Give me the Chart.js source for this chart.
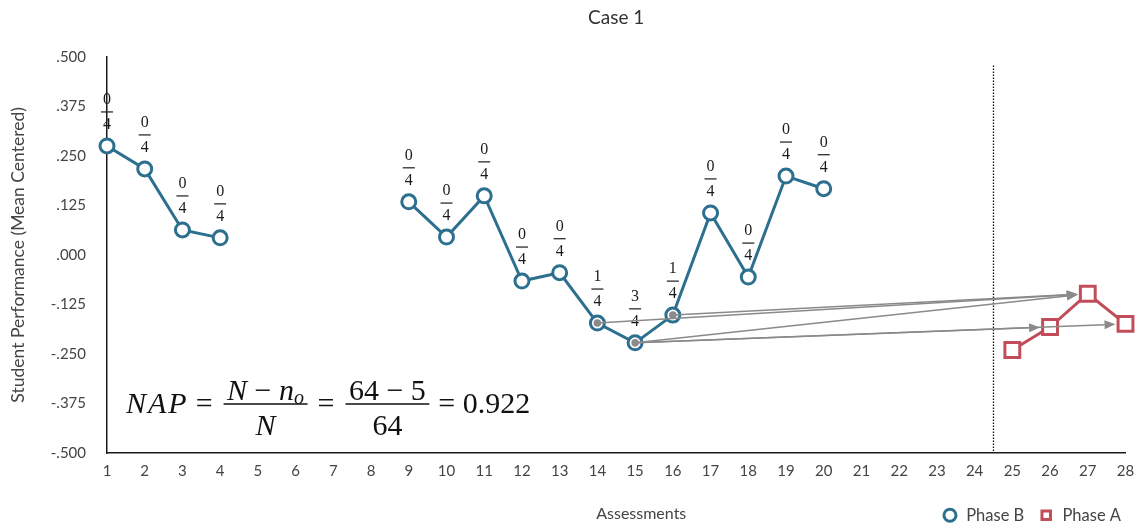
<!DOCTYPE html>
<html>
<head>
<meta charset="utf-8">
<title>Case 1</title>
<script src="https://cdn.jsdelivr.net/npm/chart.js@4.4.1/dist/chart.umd.min.js"></script>
<style>
  html, body { margin: 0; padding: 0; background: #ffffff; }
  #wrap { width: 1139px; height: 523px; position: relative; }
</style>
</head>
<body>
<div id="wrap"><canvas id="chart"></canvas></div>
<script>
// Assessment sessions and mean-centered performance
const sessionsB = [1, 2, 3, 4, 5, 6, 7, 8, 9, 10, 11, 12, 13, 14, 15, 16, 17, 18, 19, 20];
const performanceB = [0.275, 0.217, 0.063, 0.043, null, null, null, null,
                      0.134, 0.045, 0.149, -0.066, -0.045, -0.172, -0.222, -0.152,
                      0.106, -0.056, 0.199, 0.167];
// Number of Phase A points overlapping each Phase B point (out of 4)
const overlapCounts = [0, 0, 0, 0, null, null, null, null,
                       0, 0, 0, 0, 0, 1, 3, 1, 0, 0, 0, 0];
const comparisonCount = 4;

const sessionsA = [25, 26, 27, 28];
const performanceA = [-0.240, -0.182, -0.098, -0.174];

// Overlapping pairs: [Phase B session, Phase A session]
const overlapPairs = [[14, 27], [15, 26], [15, 27], [15, 28], [16, 27]];

const phaseChangeAt = 24.5;
const phaseLineTop = 0.478;

const yMin = -0.5, yMax = 0.5, yStep = 0.125;
const xMin = 1, xMax = 28;

const napTotal = 64, napOverlap = 5, napValue = '0.922';

const colorB = '#2d6f8e';
const colorA = '#c24d5a';
const textColor = '#444444';
const uiFont = "Lato, 'Open Sans', sans-serif";
const mathFont = "'Liberation Serif', 'Times New Roman', serif";

function fmtTick(v) {
  const s = Math.abs(v).toFixed(3).replace(/^0/, '');
  return (v < 0 ? '-' : '') + s;
}

// Fraction labels above each Phase B point
const fractionLabels = {
  id: 'fractionLabels',
  afterDatasetsDraw(chart) {
    const ctx = chart.ctx;
    const meta = chart.getDatasetMeta(0);
    ctx.save();
    ctx.font = '16px ' + mathFont;
    ctx.fillStyle = '#1a1a1a';
    ctx.strokeStyle = '#1a1a1a';
    ctx.lineWidth = 1.2;
    ctx.textAlign = 'center';
    ctx.textBaseline = 'middle';
    meta.data.forEach((pt, i) => {
      if (performanceB[i] === null || overlapCounts[i] === null) return;
      const x = pt.x, y = pt.y;
      ctx.fillText(String(overlapCounts[i]), x, y - 46);
      ctx.beginPath();
      ctx.moveTo(x - 6, y - 34);
      ctx.lineTo(x + 6, y - 34);
      ctx.stroke();
      ctx.fillText(String(comparisonCount), x, y - 21);
    });
    ctx.restore();
  }
};

// Phase change line and overlap arrows
const overlapArrows = {
  id: 'overlapArrows',
  afterDatasetsDraw(chart) {
    const ctx = chart.ctx;
    const xs = chart.scales.x, ys = chart.scales.y;
    ctx.save();
    // phase change line
    ctx.strokeStyle = '#111';
    ctx.lineWidth = 1.3;
    ctx.setLineDash([1.5, 1.5]);
    const px = xs.getPixelForValue(phaseChangeAt);
    ctx.beginPath();
    ctx.moveTo(px, ys.getPixelForValue(phaseLineTop));
    ctx.lineTo(px, ys.getPixelForValue(yMin));
    ctx.stroke();
    ctx.setLineDash([]);

    const gray = '#8a8a8a';
    ctx.strokeStyle = gray;
    ctx.fillStyle = gray;
    ctx.lineWidth = 1.5;
    const sources = new Set();
    overlapPairs.forEach(([b, a]) => {
      const bi = sessionsB.indexOf(b), ai = sessionsA.indexOf(a);
      const x0 = xs.getPixelForValue(b), y0 = ys.getPixelForValue(performanceB[bi]);
      const x1 = xs.getPixelForValue(a), y1 = ys.getPixelForValue(performanceA[ai]);
      sources.add(b);
      const ang = Math.atan2(y1 - y0, x1 - x0);
      const tipX = x1 - Math.cos(ang) * 10, tipY = y1 - Math.sin(ang) * 10;
      const headLen = 11, headW = 4.5;
      const bx = tipX - Math.cos(ang) * headLen, by = tipY - Math.sin(ang) * headLen;
      ctx.beginPath();
      ctx.moveTo(x0, y0);
      ctx.lineTo(bx, by);
      ctx.stroke();
      ctx.beginPath();
      ctx.moveTo(tipX, tipY);
      ctx.lineTo(bx - Math.sin(ang) * headW, by + Math.cos(ang) * headW);
      ctx.lineTo(bx + Math.sin(ang) * headW, by - Math.cos(ang) * headW);
      ctx.closePath();
      ctx.fill();
    });
    sources.forEach(b => {
      const bi = sessionsB.indexOf(b);
      ctx.beginPath();
      ctx.arc(xs.getPixelForValue(b), ys.getPixelForValue(performanceB[bi]), 3.8, 0, Math.PI * 2);
      ctx.fill();
    });
    ctx.restore();
  }
};

// NAP formula and the x-axis caption
const annotations = {
  id: 'annotations',
  afterDraw(chart) {
    const ctx = chart.ctx;
    const area = chart.chartArea;
    ctx.save();
    ctx.fillStyle = '#111';
    ctx.strokeStyle = '#111';
    ctx.textBaseline = 'alphabetic';
    ctx.textAlign = 'left';
    const F = '30px ' + mathFont, FI = 'italic 30px ' + mathFont, FS = 'italic 20px ' + mathFont;
    const base = 413, numBase = 400, denBase = 435, barY = 404;

    const widthOf = parts => parts.reduce((w, p) => { ctx.font = p.f; return w + ctx.measureText(p.t).width + (p.sp || 0); }, 0);
    const drawParts = (parts, x, y) => {
      parts.forEach(p => {
        ctx.font = p.f;
        ctx.fillText(p.t, x, y + (p.dy || 0));
        x += ctx.measureText(p.t).width + (p.sp || 0);
      });
      return x;
    };
    const fraction = (num, den, x) => {
      const wn = widthOf(num), wd = widthOf(den);
      const w = Math.max(wn, wd) + 7;
      drawParts(num, x + (w - wn) / 2, numBase);
      drawParts(den, x + (w - wd) / 2, denBase);
      ctx.lineWidth = 1.4;
      ctx.beginPath();
      ctx.moveTo(x, barY);
      ctx.lineTo(x + w, barY);
      ctx.stroke();
      return x + w;
    };

    let x = area.left + 19;
    x = drawParts([{t: 'N', f: FI, sp: 2}, {t: 'A', f: FI, sp: 2}, {t: 'P', f: FI}], x, base);
    x += 9;
    x = drawParts([{t: '=', f: F}], x, base) + 11;
    x = fraction([{t: 'N', f: FI}, {t: ' \u2212 ', f: F}, {t: 'n', f: FI}, {t: 'o', f: FS, dy: 4}],
                 [{t: 'N', f: FI}], x);
    x += 10;
    x = drawParts([{t: '=', f: F}], x, base) + 11;
    x = fraction([{t: String(napTotal), f: F}, {t: ' \u2212 ', f: F}, {t: String(napOverlap), f: F}],
                 [{t: String(napTotal), f: F}], x);
    x += 9;
    drawParts([{t: '= ' + napValue, f: F}], x, base);

    // x-axis caption
    ctx.font = '16px ' + uiFont;
    ctx.fillStyle = textColor;
    ctx.textAlign = 'center';
    ctx.textBaseline = 'middle';
    ctx.fillText('Assessments', (area.left + area.right) / 2 + 25, 514);
    ctx.restore();
  }
};

const ctx = document.getElementById('chart');
new Chart(ctx, {
  type: 'line',
  data: {
    datasets: [
      {
        label: 'Phase B',
        data: sessionsB.map((s, i) => ({x: s, y: performanceB[i]})),
        borderColor: colorB,
        backgroundColor: '#ffffff',
        borderWidth: 3,
        pointStyle: 'circle',
        pointRadius: 7,
        pointBorderWidth: 3,
        pointBackgroundColor: '#ffffff',
        pointBorderColor: colorB,
        spanGaps: false,
        clip: false
      },
      {
        label: 'Phase A',
        data: sessionsA.map((s, i) => ({x: s, y: performanceA[i]})),
        borderColor: colorA,
        backgroundColor: '#ffffff',
        borderWidth: 3,
        pointStyle: 'rect',
        pointRadius: 10.5,
        pointBorderWidth: 3,
        pointBackgroundColor: '#ffffff',
        pointBorderColor: colorA,
        clip: false
      }
    ]
  },
  options: {
    responsive: true,
    maintainAspectRatio: false,
    animation: false,
    events: [],
    layout: { padding: { left: 0, right: 4, top: 0, bottom: 0 } },
    scales: {
      x: {
        type: 'linear',
        min: xMin,
        max: xMax,
        grid: { display: false, drawTicks: false },
        border: { display: true, color: '#1a1a1a', width: 1.5 },
        ticks: {
          stepSize: 1,
          autoSkip: false,
          maxRotation: 0,
          padding: 9,
          color: textColor,
          font: { family: uiFont, size: 15 }
        },
        afterFit(scale) {
          scale.height = 40;
          scale.paddingRight = 12;
        }
      },
      y: {
        min: yMin,
        max: yMax,
        grid: { display: false, drawTicks: false },
        border: { display: true, color: '#1a1a1a', width: 1.5 },
        ticks: {
          stepSize: yStep,
          padding: 21,
          color: textColor,
          font: { family: uiFont, size: 15 },
          callback: v => fmtTick(v)
        },
        title: {
          display: true,
          text: 'Student Performance (Mean Centered)',
          color: textColor,
          font: { family: uiFont, size: 17.5 },
          padding: { top: 8, bottom: 0 }
        },
        afterFit(scale) { scale.width = 107; }
      }
    },
    plugins: {
      title: {
        display: true,
        text: 'Case 1',
        fullSize: false,
        color: '#333333',
        font: { family: uiFont, size: 19, weight: 'normal' },
        padding: { top: 6, bottom: 28 }
      },
      legend: {
        display: true,
        position: 'bottom',
        align: 'end',
        maxHeight: 30,
        labels: {
          usePointStyle: true,
          boxWidth: 16,
          boxHeight: 8.5,
          padding: 14,
          color: textColor,
          font: { family: uiFont, size: 16.5 }
        }
      },
      tooltip: { enabled: false }
    }
  },
  plugins: [fractionLabels, overlapArrows, annotations]
});
</script>
</body>
</html>
